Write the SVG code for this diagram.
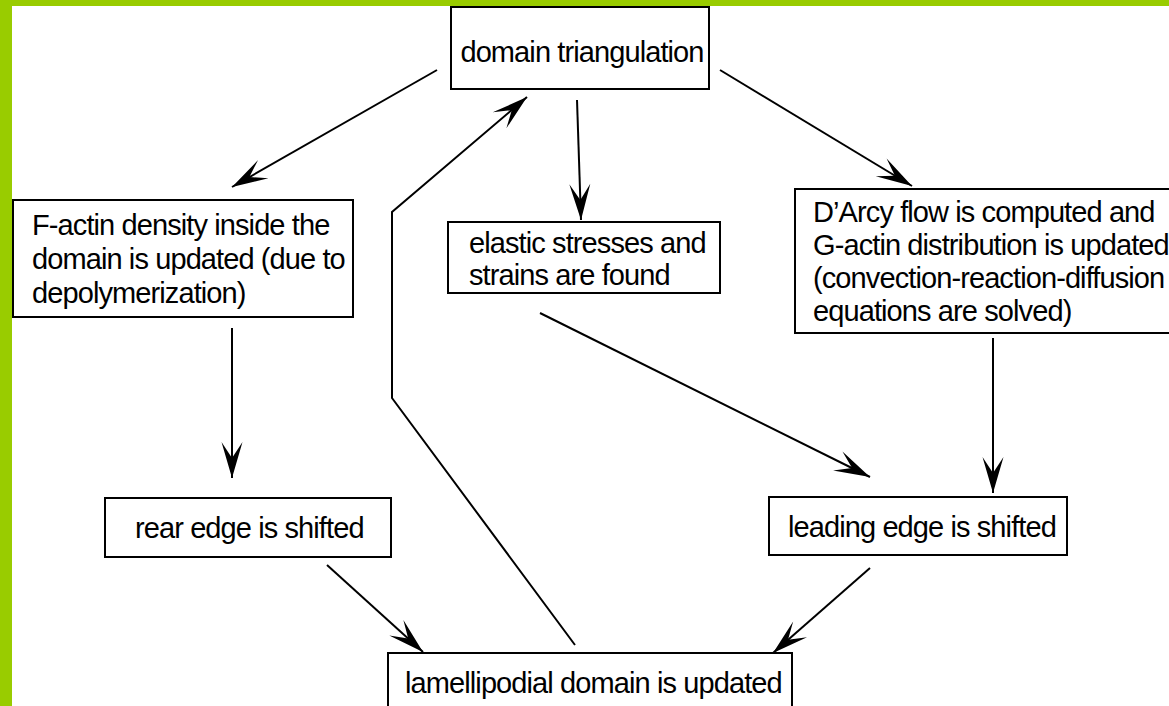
<svg xmlns="http://www.w3.org/2000/svg" width="1169" height="706" viewBox="0 0 1169 706">
<style>
.box{fill:#fff;stroke:#000;stroke-width:2}
.t{font-family:"Liberation Sans",Arial,sans-serif;font-size:29px;letter-spacing:-0.9px;fill:#000}
.c{fill:none;stroke:#000;stroke-width:2}
.g{fill:#99cc00}
</style>
<defs>
<marker id="ah" markerUnits="userSpaceOnUse" orient="auto" overflow="visible" markerWidth="1" markerHeight="1" refX="0" refY="0">
<path d="M0,0 L-36,-10.5 L-20,0 L-36,10.5 Z" fill="#000"/>
</marker>
</defs>
<rect width="1169" height="706" fill="#fff"/>
<rect class="g" x="0" y="0" width="1169" height="6"/>
<rect class="g" x="0" y="0" width="12" height="706"/>
<g id="connectors">
<path class="c" d="M437,70 L232,187" marker-end="url(#ah)"/>
<path class="c" d="M577,100 L581,220" marker-end="url(#ah)"/>
<path class="c" d="M720,70 L912,186" marker-end="url(#ah)"/>
<path class="c" d="M232,328 L232,478" marker-end="url(#ah)"/>
<path class="c" d="M540,313 L870,477" marker-end="url(#ah)"/>
<path class="c" d="M993,338 L993,493" marker-end="url(#ah)"/>
<path class="c" d="M327,565 L423,652" marker-end="url(#ah)"/>
<path class="c" d="M870,568 L773,653" marker-end="url(#ah)"/>
<path class="c" d="M575,645 L392,398 L392,212 L527,97" marker-end="url(#ah)"/>
</g>
<g id="domain">
<rect class="box" x="451" y="7" width="258" height="82"/>
<text class="t" x="582" y="62" text-anchor="middle">domain triangulation</text>
</g>
<g id="factin">
<rect class="box" x="13" y="200" width="340" height="117"/>
<text class="t" x="32" y="235">F-actin density inside the</text>
<text class="t" x="32" y="269">domain is updated (due to</text>
<text class="t" x="32" y="303">depolymerization)</text>
</g>
<g id="elastic">
<rect class="box" x="448" y="222" width="272" height="71"/>
<text class="t" x="469" y="253">elastic stresses and</text>
<text class="t" x="469" y="285">strains are found</text>
</g>
<g id="darcy">
<rect class="box" x="795" y="189" width="400" height="144"/>
<text class="t" x="813" y="222">D’Arcy flow is computed and</text>
<text class="t" x="813" y="255">G-actin distribution is updated</text>
<text class="t" x="813" y="288">(convection-reaction-diffusion</text>
<text class="t" x="813" y="321">equations are solved)</text>
</g>
<g id="rear">
<rect class="box" x="105" y="498" width="286" height="59"/>
<text class="t" x="135" y="538">rear edge is shifted</text>
</g>
<g id="leading">
<rect class="box" x="769" y="497" width="298" height="58"/>
<text class="t" x="788" y="537">leading edge is shifted</text>
</g>
<g id="lamelli">
<rect class="box" x="388" y="653" width="404" height="70"/>
<text class="t" x="405" y="693">lamellipodial domain is updated</text>
</g>
</svg>
